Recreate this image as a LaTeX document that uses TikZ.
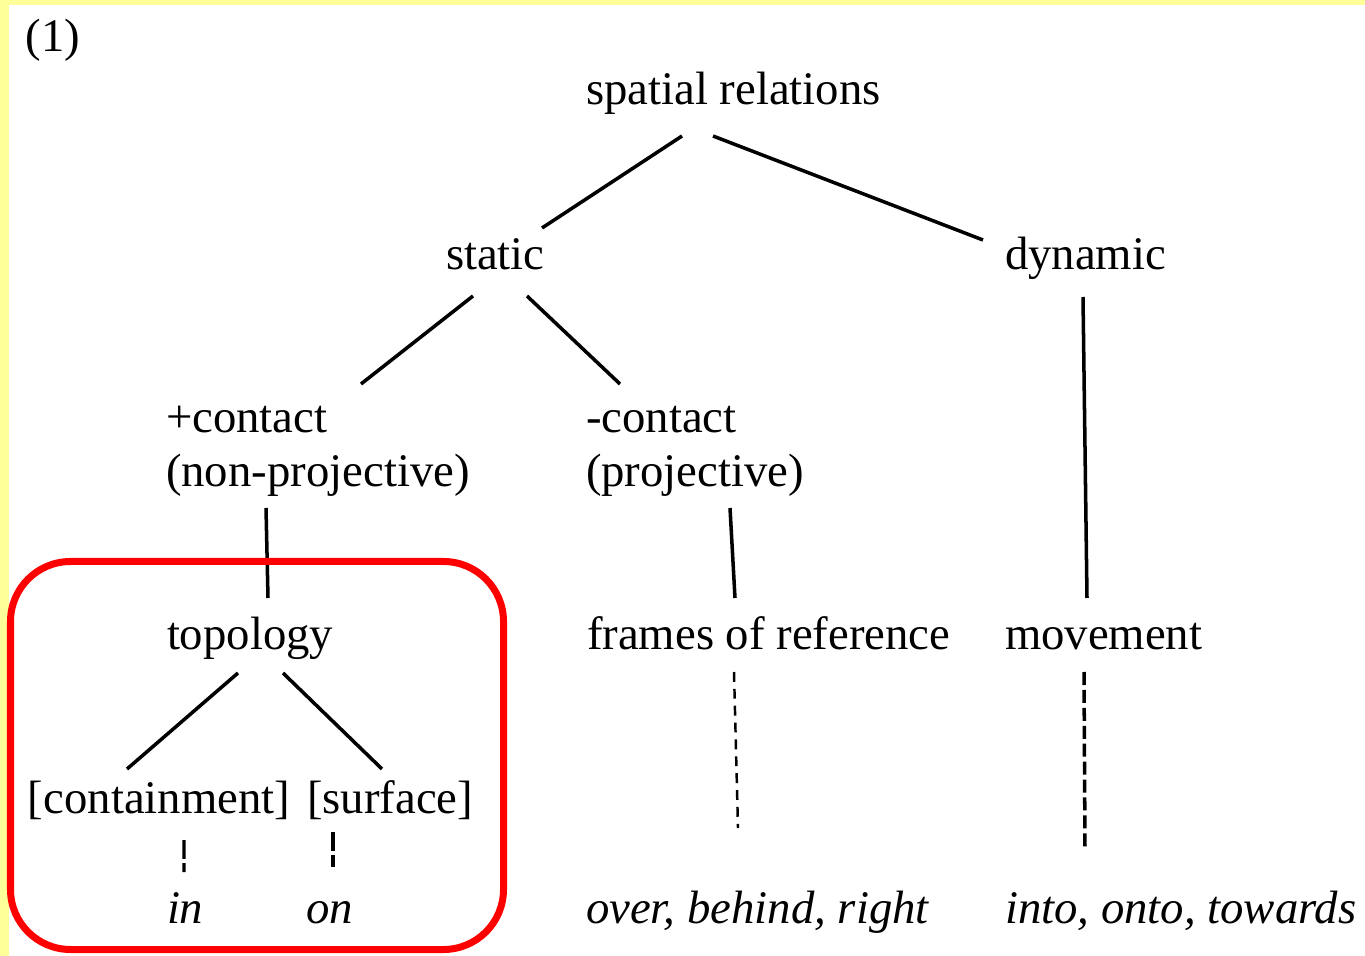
\documentclass[tikz,border=0pt]{standalone}
\usepackage{fontspec}
\setmainfont{Liberation Serif}
\usetikzlibrary{positioning,calc}
\definecolor{cfondo}{HTML}{FFFF99}
\definecolor{cmarco}{HTML}{FF0000}
\tikzset{
  et/.style={font=\fontsize{13.3}{15.4}\selectfont,inner sep=0pt,outer sep=0pt,
             anchor=base west,align=left},
  ej/.style={et,font=\fontsize{13.3}{15.4}\selectfont\itshape},
  rama/.style={draw=black,line width=1pt},
  enlace/.style={draw=black,line width=0.7pt,dash pattern=on 2.8pt off 2pt},
  enlaceg/.style={draw=black,line width=1pt,dash pattern=on 3.7pt off 1.4pt},
  enlacec/.style={draw=black,line width=0.9pt,dash pattern=on 5.4pt off 1.2pt},
  marco/.style={draw=cmarco,line width=0.07cm,rounded corners=0.6cm},
}
\begin{document}
\begin{tikzpicture}[x=1cm,y=1cm]
\useasboundingbox (0,0) rectangle (13.65,-9.56);

% ---------------- fondo ----------------
\fill[cfondo] (0,0) rectangle (13.65,-0.05);
\fill[cfondo] (0,0) rectangle (0.09,-9.56);

% ---------------- nodos ----------------
\node[et] (uno) at (0.26,-0.52) {(1)};
\node[et] (sr)  at (5.86,-1.05) {spatial relations};
\node[et] (st)  at (4.46,-2.70) {static};
\node[et] (dy)  at (10.05,-2.70) {dynamic};
\node[et] (pc)  at (1.66,-4.87) {+contact\\(non-projective)};
\node[et] (mc)  at (5.86,-4.87) {-contact\\(projective)};
\node[et] (tp)  at (1.67,-6.50) {topology};
\node[et] (fr)  at (5.87,-6.50) {frames of reference};
\node[et] (mv)  at (10.05,-6.50) {movement};
\node[et] (ct)  at (0.28,-8.13) {[containment]};
\node[et] (sf)  at (3.07,-8.13) {[surface]};
\node[ej] (in)  at (1.67,-9.23) {in};
\node[ej] (on)  at (3.06,-9.23) {on};
\node[ej] (ob)  at (5.86,-9.23) {over, behind, right};
\node[ej] (ot)  at (10.05,-9.23) {into, onto, towards};

% ---------------- ramas ----------------
\draw[rama] ([shift={(0.96,-0.31)}]sr.base west) -- ([shift={(0.96,0.42)}]st.base west);
\draw[rama] ([shift={(1.27,-0.31)}]sr.base west) -- ([shift={(-0.22,0.30)}]dy.base west);
\draw[rama] ([shift={(0.27,-0.26)}]st.base west) -- ([shift={(1.95,1.03)}]pc.base west);
\draw[rama] ([shift={(0.81,-0.26)}]st.base west) -- ([shift={(0.34,1.03)}]mc.base west);
\draw[rama] ([shift={(0.78,-0.27)}]dy.base west) -- ([shift={(0.82,0.52)}]mv.base west);
\draw[rama] ([shift={(1.00,-0.21)}]pc.base west) -- ([shift={(1.01,0.52)}]tp.base west);
\draw[rama] ([shift={(1.44,-0.21)}]mc.base west) -- ([shift={(1.48,0.52)}]fr.base west);
\draw[rama] ([shift={(0.71,-0.23)}]tp.base west) -- ([shift={(0.99,0.44)}]ct.base west);
\draw[rama] ([shift={(1.16,-0.23)}]tp.base west) -- ([shift={(0.75,0.44)}]sf.base west);

% ---------------- ejemplos ----------------
\draw[enlace]  ([shift={(1.47,-0.22)}]fr.base west) -- ([shift={(1.52,0.95)}]ob.base west);
\draw[enlaceg] ([shift={(0.79,-0.22)}]mv.base west) -- ([shift={(0.80,0.74)}]ot.base west);
\draw[enlacec] ([shift={(1.56,-0.27)}]ct.base west) -- ([shift={(0.17,0.51)}]in.base west);
\draw[enlacec] ([shift={(0.26,-0.19)}]sf.base west) -- ([shift={(0.27,0.56)}]on.base west);

% ---------------- marco ----------------
\draw[marco] (0.105,-5.615) rectangle (5.035,-9.495);

\end{tikzpicture}
\end{document}
